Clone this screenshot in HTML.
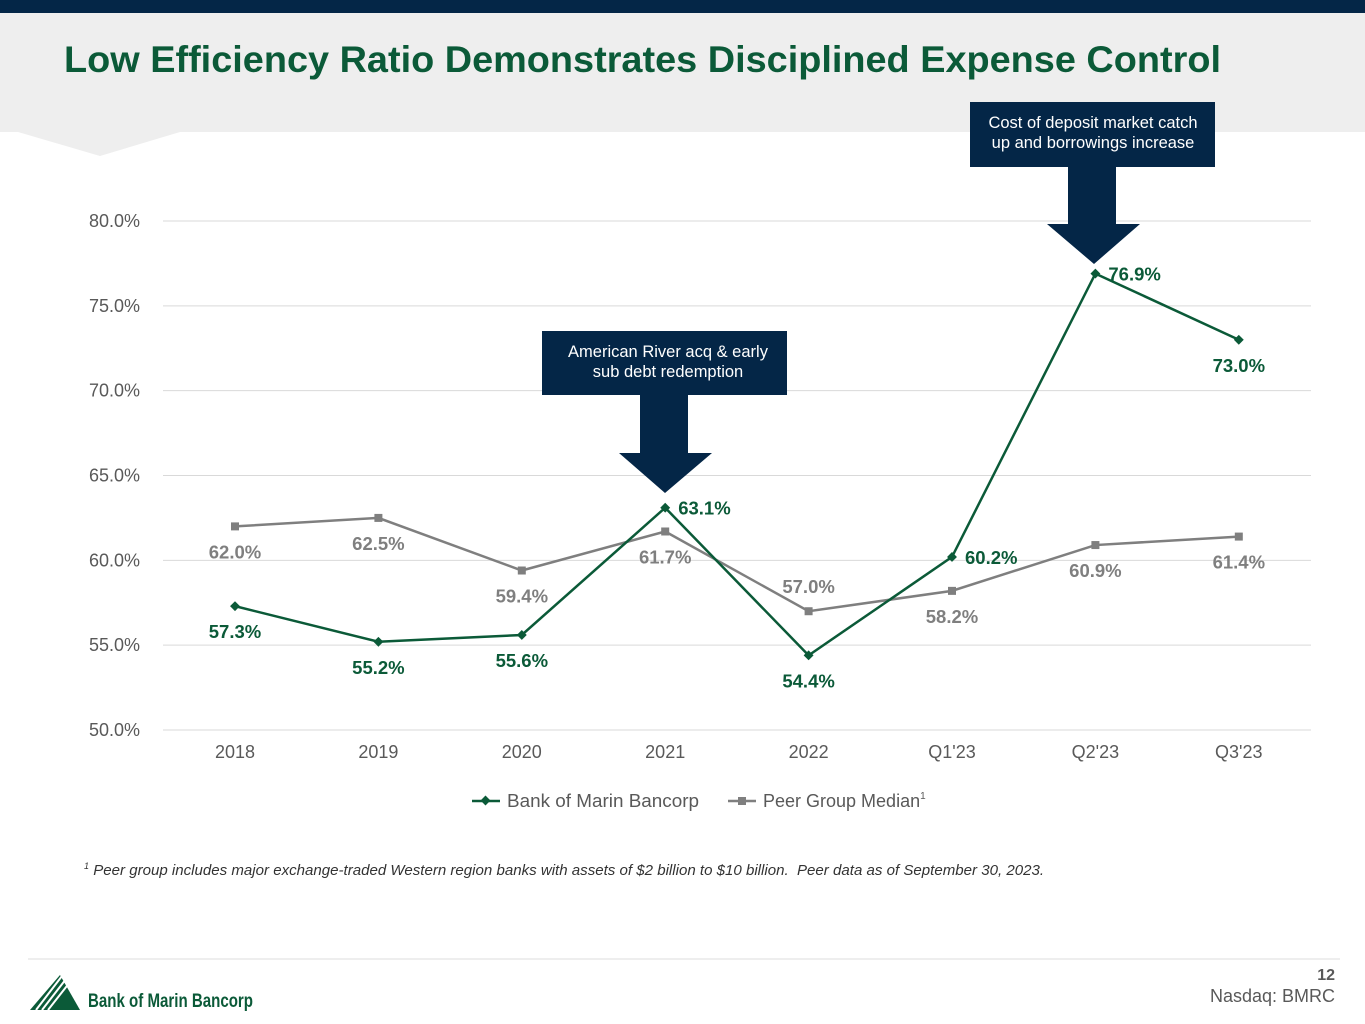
<!DOCTYPE html>
<html><head><meta charset="utf-8"><style>
body{margin:0;width:1365px;height:1024px;overflow:hidden;background:#fff;font-family:"Liberation Sans",Arial,sans-serif;position:relative}
</style></head><body>
<svg width="1365" height="1024" style="position:absolute;left:0;top:0">
<rect x="0" y="0" width="1365" height="13" fill="#042647"/>
<polygon points="0,13 1365,13 1365,132 180,132 100,156 18,132 0,132" fill="#eeeeee"/>
<text x="64" y="72" font-size="37" font-weight="bold" fill="#0b5a38" textLength="1157" lengthAdjust="spacingAndGlyphs">Low Efficiency Ratio Demonstrates Disciplined Expense Control</text>
<g id="chart"></g>
<g>
<polygon points="542,331 787,331 787,395 688,395 688,453 712,453 665,493 619,453 640,453 640,395 542,395" fill="#042647"/>
<text x="668" y="357" font-size="16.5" fill="#fff" text-anchor="middle">American River acq &amp; early</text>
<text x="668" y="377" font-size="16.5" fill="#fff" text-anchor="middle">sub debt redemption</text>
</g>
<g>
<polygon points="970,102 1215,102 1215,167 1116,167 1116,224 1140,224 1094,264 1047,224 1068,224 1068,167 970,167" fill="#042647"/>
<text x="1093" y="128" font-size="16.5" fill="#fff" text-anchor="middle">Cost of deposit market catch</text>
<text x="1093" y="148" font-size="16.5" fill="#fff" text-anchor="middle">up and borrowings increase</text>
</g>
<g>
<line x1="472" y1="801" x2="500" y2="801" stroke="#0b5a38" stroke-width="2.5"/>
<rect x="482" y="797" width="7" height="7" fill="#0b5a38" transform="rotate(45 485.5 800.5)"/>
<text x="507" y="807" font-size="18" fill="#595959" textLength="192" lengthAdjust="spacingAndGlyphs">Bank of Marin Bancorp</text>
<line x1="728" y1="801" x2="756" y2="801" stroke="#7f7f7f" stroke-width="2.5"/>
<rect x="738" y="797" width="8" height="8" fill="#7f7f7f"/>
<text x="763" y="807" font-size="18" fill="#595959">Peer Group Median<tspan font-size="10" dy="-8">1</tspan></text>
</g>
<text x="84" y="875" font-size="14.5" font-style="italic" fill="#333" xml:space="preserve"><tspan font-size="9" dy="-6">1</tspan><tspan dy="6" textLength="955" lengthAdjust="spacingAndGlyphs"> Peer group includes major exchange-traded Western region banks with assets of $2 billion to $10 billion.  Peer data as of September 30, 2023.</tspan></text>
<line x1="28" y1="959" x2="1340" y2="959" stroke="#dddddd" stroke-width="1"/>
<g>
<polygon points="30,1010 60,975 80,1010" fill="#0b5a38"/>
<g stroke="#fff" stroke-width="2"><line x1="36" y1="1010" x2="62" y2="976"/><line x1="42" y1="1010" x2="66" y2="979"/><line x1="48" y1="1010" x2="70" y2="982"/></g>
<text x="88" y="1007" font-size="19" font-weight="bold" fill="#0b5a38" textLength="165" lengthAdjust="spacingAndGlyphs">Bank of Marin Bancorp</text>
</g>
<text x="1335" y="980" font-size="16" font-weight="bold" fill="#595959" text-anchor="end">12</text>
<text x="1335" y="1002" font-size="18" fill="#595959" text-anchor="end">Nasdaq: BMRC</text>
</svg>
<script>
const categories=["2018","2019","2020","2021","2022","Q1'23","Q2'23","Q3'23"];
const bankValues=[57.3,55.2,55.6,63.1,54.4,60.2,76.9,73.0];
const peerValues=[62.0,62.5,59.4,61.7,57.0,58.2,60.9,61.4];
const yTicks=[50,55,60,65,70,75,80];
const bankLabelPos=["below","below","below","right","below","right","right","below"];
const peerLabelPos=["below","below","below","below","above","below","below","below"];
const NS="http://www.w3.org/2000/svg";
const g=document.getElementById('chart');
function y(v){return 730-(v-50)*(509/30);}
function x(i){return 235+i*143.4;}
function el(t,a){const e=document.createElementNS(NS,t);for(const k in a)e.setAttribute(k,a[k]);g.appendChild(e);return e;}
yTicks.forEach(t=>{
 const l=el('line',{x1:163,x2:1311,y1:y(t),y2:y(t),stroke:'#d9d9d9','stroke-width':1});
 
 
 const tx=el('text',{x:140,y:y(t)+6,'font-size':18,fill:'#595959','text-anchor':'end'});
 tx.textContent=t.toFixed(1)+'%';
 
 
});
categories.forEach((c,i)=>{
 const tx=el('text',{x:x(i),y:758,'font-size':18,fill:'#595959','text-anchor':'middle'});
 tx.textContent=c;
 
 
});
function series(vals,color,name,marker,pos){
 const p=el('polyline',{points:vals.map((v,i)=>x(i)+','+y(v)).join(' '),fill:'none',stroke:color,'stroke-width':2.5});
 
 
 vals.forEach((v,i)=>{
  let m;
  if(marker==='diamond'){m=el('rect',{x:x(i)-3.5,y:y(v)-3.5,width:7,height:7,fill:color,transform:`rotate(45 ${x(i)} ${y(v)})`});}
  else{m=el('rect',{x:x(i)-4,y:y(v)-4,width:8,height:8,fill:color});}
  
  
  let lx=x(i),ly=y(v)+32,anc='middle';
  if(pos[i]==='right'){lx=x(i)+13;ly=y(v)+7;anc='start';}
  if(pos[i]==='above'){ly=y(v)-18;}
  const t=el('text',{x:lx,y:ly,'font-size':18.5,'font-weight':'bold',fill:color,'text-anchor':anc});
  t.textContent=v.toFixed(1)+'%';
  
  
 });
}
series(peerValues,'#7f7f7f','peer','square',peerLabelPos);
series(bankValues,'#0b5a38','bank','diamond',bankLabelPos);
</script>
</body></html>
